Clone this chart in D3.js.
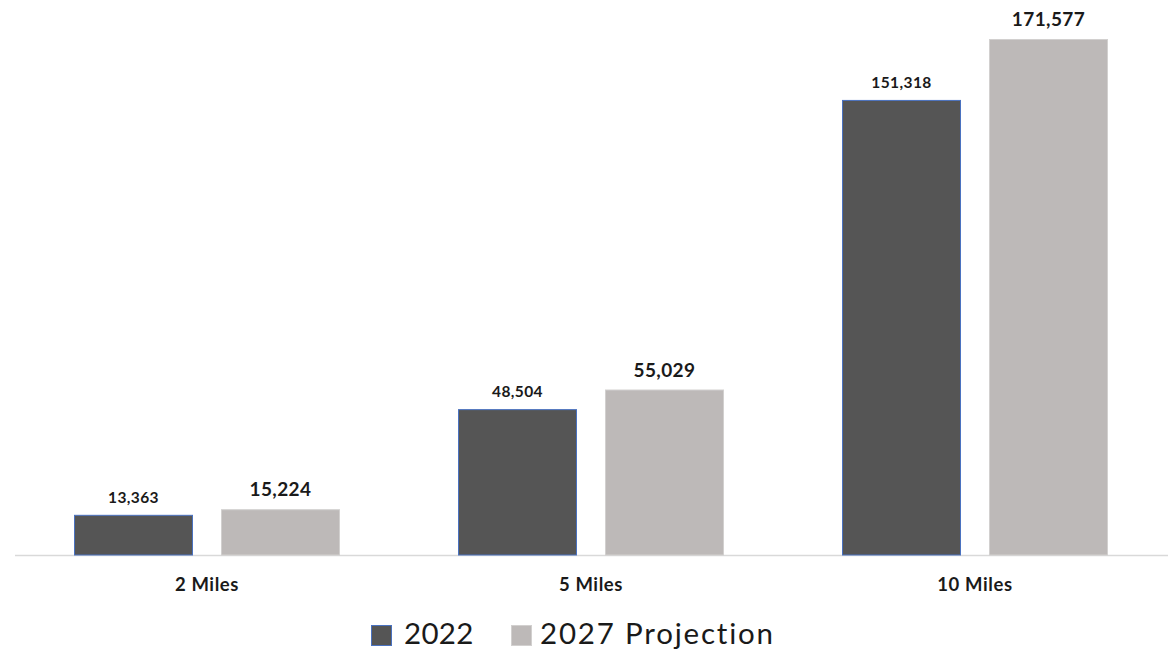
<!DOCTYPE html>
<html><head><meta charset="utf-8">
<script src="https://cdn.jsdelivr.net/npm/d3@7"></script>
<style>body{margin:0;background:#fff;}svg{display:block;font-family:Lato,"Open Sans",sans-serif;}</style>
</head><body><svg id="c" width="1173" height="651"></svg>
<script>
const categories = ["2 Miles", "5 Miles", "10 Miles"];
const seriesNames = ["2022", "2027 Projection"];
const values2022 = [13363, 48504, 151318];
const values2027 = [15224, 55029, 171577];

const svg = d3.select("#c");
const baseY = 555, topY = 39;
const x0 = d3.scaleBand().domain(categories).range([15, 1167]);
const x1 = d3.scaleBand().domain(seriesNames).range([59, 384 - 59]).paddingInner(28 / 147);
const y = d3.scaleLinear().domain([0, 171577]).range([baseY, topY]);
const fmt = d3.format(",");

const fills = ["#555555", "#bdb9b8"];
const strokes = ["#4a72c0", "#d2d0cf"];
const labelSize = [15.5, 19];
const labelOff = [12, 13];
const series = [values2022, values2027];

// axis line
svg.append("line").attr("x1", 15).attr("x2", 1168).attr("y1", baseY + 0.5).attr("y2", baseY + 0.5)
  .attr("stroke", "#d9d9d9").attr("stroke-width", 1.5);

series.forEach((vals, si) => {
  const g = svg.append("g");
  g.selectAll("rect").data(categories).join("rect")
    .attr("x", c => x0(c) + x1(seriesNames[si]) + 0.5)
    .attr("y", (c, i) => y(vals[i]) + 0.5)
    .attr("width", x1.bandwidth() - 1)
    .attr("height", (c, i) => baseY - y(vals[i]) - 0.5)
    .attr("fill", fills[si]).attr("stroke", strokes[si]).attr("stroke-width", 1);
  g.selectAll("text").data(categories).join("text")
    .attr("x", c => x0(c) + x1(seriesNames[si]) + x1.bandwidth() / 2)
    .attr("y", (c, i) => y(vals[i]) - labelOff[si])
    .attr("text-anchor", "middle").attr("font-weight", "bold")
    .attr("font-size", labelSize[si]).attr("letter-spacing", 0.4).attr("fill", "#1a1a1a")
    .text((c, i) => fmt(vals[i]));
});

// category labels
svg.append("g").selectAll("text").data(categories).join("text")
  .attr("x", c => x0(c) + x0.bandwidth() / 2)
  .attr("y", 590.5).attr("text-anchor", "middle").attr("font-weight", "bold")
  .attr("font-size", 18.5).attr("letter-spacing", 0.6).attr("fill", "#1a1a1a").text(c => c);

// legend
const legend = [{x: 371, tx: 404, sp: 0.3}, {x: 511, tx: 540, sp: 1.8}];
seriesNames.forEach((n, i) => {
  svg.append("rect").attr("x", legend[i].x + 0.5).attr("y", 625.5).attr("width", 20).attr("height", 20)
    .attr("fill", fills[i]).attr("stroke", strokes[i]);
  svg.append("text").attr("x", legend[i].tx).attr("y", 644).attr("font-size", 29.5)
    .attr("letter-spacing", legend[i].sp)
    .attr("fill", "#1a1a1a").text(n);
});
</script></body></html>
